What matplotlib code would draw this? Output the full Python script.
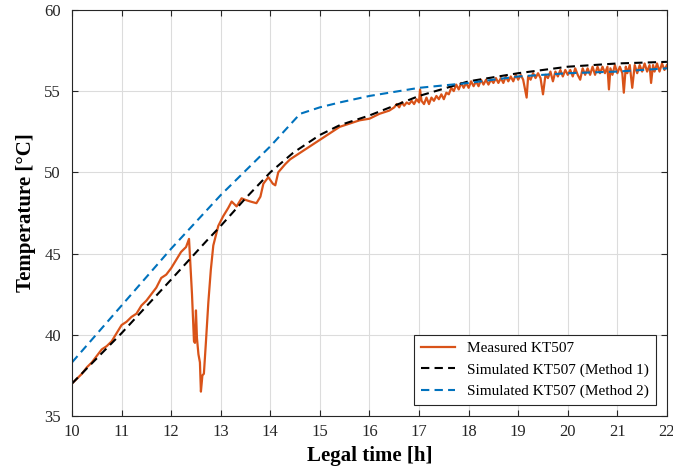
import matplotlib.pyplot as plt

plt.rcParams['font.family'] = ['Liberation Serif', 'DejaVu Serif']

# measured KT507
meas_t = [10.0, 10.1, 10.2, 10.3, 10.4, 10.5, 10.6, 10.7, 10.8, 10.9,
          11.0, 11.1, 11.2, 11.3, 11.4, 11.5, 11.6, 11.7, 11.8, 11.9,
          12.0, 12.1, 12.2, 12.3, 12.36, 12.42, 12.46, 12.48, 12.5, 12.52,
          12.55, 12.58, 12.6, 12.63, 12.66, 12.7, 12.75, 12.8, 12.85, 12.95,
          13.05, 13.15, 13.22, 13.32, 13.42, 13.5, 13.6, 13.72, 13.8, 13.86,
          13.96, 14.05, 14.1, 14.16, 14.3, 14.4, 14.5, 14.6, 14.8, 15.0,
          15.2, 15.4, 15.6, 15.8, 16.0, 16.2, 16.4,
          16.5, 16.55, 16.6, 16.65, 16.7, 16.75, 16.8, 16.85, 16.9, 16.95,
          17.0, 17.02, 17.05, 17.1, 17.15, 17.2, 17.25, 17.3, 17.35, 17.4,
          17.45, 17.5, 17.55, 17.6, 17.65, 17.7, 17.75, 17.8, 17.85, 17.9,
          17.95, 18.0, 18.05, 18.1, 18.15, 18.2, 18.25, 18.3, 18.35, 18.4,
          18.45, 18.5, 18.55, 18.6, 18.65, 18.7, 18.75, 18.8, 18.85, 18.9,
          18.95, 19.0, 19.05, 19.1, 19.17, 19.2, 19.25, 19.3, 19.35, 19.4,
          19.45, 19.5, 19.55, 19.6, 19.65, 19.7, 19.75, 19.8, 19.85, 19.9,
          19.95, 20.0, 20.05, 20.1, 20.15, 20.2, 20.25, 20.3, 20.35, 20.4,
          20.45, 20.5, 20.55, 20.6, 20.65, 20.7, 20.75, 20.8, 20.83, 20.86,
          20.9, 20.95, 21.0, 21.05, 21.1, 21.13, 21.17, 21.2, 21.25, 21.3,
          21.35, 21.4, 21.45, 21.5, 21.55, 21.6, 21.65, 21.68, 21.72, 21.75,
          21.8, 21.85, 21.9, 21.95, 22.0]
meas_T = [37.0, 37.3, 37.6, 38.0, 38.3, 38.7, 39.1, 39.3, 39.6, 40.1,
          40.6, 40.8, 41.1, 41.3, 41.8, 42.1, 42.5, 42.9, 43.5, 43.7,
          44.1, 44.6, 45.1, 45.4, 45.9, 42.5, 39.6, 39.5, 41.5, 39.8,
          38.8, 38.3, 36.5, 37.5, 37.6, 39.5, 42.0, 44.0, 45.5, 46.7,
          47.3, 47.8, 48.2, 47.9, 48.4, 48.3, 48.2, 48.1, 48.5, 49.3,
          49.7, 49.3, 49.2, 50.0, 50.5, 50.8, 51.0, 51.2, 51.6, 52.0,
          52.4, 52.8, 53.0, 53.2, 53.3, 53.6, 53.8,
          54.0, 54.2, 54.0, 54.3, 54.1, 54.3, 54.2, 54.4, 54.2, 54.5,
          54.3, 55.1, 54.4, 54.2, 54.6, 54.2, 54.6, 54.4, 54.7, 54.5,
          54.8, 54.5, 54.9, 54.8, 55.2, 55.0, 55.4, 55.1, 55.5, 55.2,
          55.5, 55.2, 55.6, 55.3, 55.6, 55.3, 55.7, 55.4, 55.7, 55.4,
          55.7, 55.5, 55.8, 55.5, 55.8, 55.5, 55.9, 55.6, 55.9, 55.6,
          56.0, 55.7, 56.0, 55.7, 54.6, 55.9, 55.7, 56.1, 55.8, 56.1,
          55.8, 54.8, 56.0, 55.8, 56.2, 55.6, 56.2, 55.9, 56.3, 55.9,
          56.3, 56.0, 56.3, 55.9, 56.4, 56.0, 55.7, 56.4, 56.0, 56.4,
          56.0, 56.5, 56.0, 56.5, 56.1, 56.5, 56.1, 56.5, 55.1, 56.4,
          56.0, 56.6, 56.1, 56.5, 56.1, 54.9, 56.5, 56.1, 56.6, 55.2,
          56.6, 56.1, 56.6, 56.2, 56.7, 56.2, 56.6, 55.5, 56.6, 56.2,
          56.7, 56.2, 56.7, 56.3, 56.6]

# simulated, method 1
sim1_t = [10.0, 11.0, 12.0, 12.72, 13.0, 13.5, 14.0, 14.46, 15.0, 15.4,
          16.0, 17.0, 18.0, 19.0, 20.0, 21.0, 22.0]
sim1_T = [37.0, 40.1, 43.4, 45.8, 46.7, 48.4, 50.0, 51.2, 52.3, 52.9,
          53.5, 54.7, 55.6, 56.1, 56.5, 56.7, 56.8]

# simulated, method 2
sim2_t = [10.0, 11.0, 12.0, 13.0, 14.0, 14.6, 15.0, 15.4, 16.0, 17.0,
          18.0, 19.0, 20.0, 21.0, 22.0]
sim2_T = [38.3, 41.8, 45.3, 48.6, 51.6, 53.6, 54.0, 54.3, 54.7, 55.2,
          55.5, 55.9, 56.1, 56.2, 56.4]

fig = plt.figure(figsize=(6.73, 4.69), dpi=100)
ax = fig.add_axes([0.107, 0.113, 0.884, 0.866])

ax.plot(meas_t, meas_T, color='#D95319', lw=1.6, label='Measured KT507')
ax.plot(sim1_t, sim1_T, color='black', lw=1.5, ls=(0, (4, 2.5)),
        label='Simulated KT507 (Method 1)')
ax.plot(sim2_t, sim2_T, color='#0072BD', lw=1.5, ls=(0, (4, 2.5)),
        label='Simulated KT507 (Method 2)')

ax.set_xlim(10, 22)
ax.set_ylim(35, 60)
ax.set_xticks(range(10, 23))
ax.set_yticks(range(35, 61, 5))
ax.grid(True, color='#dcdcdc', lw=0.8)
ax.set_axisbelow(True)
ax.tick_params(direction='in', top=True, right=True, labelsize=12,
               colors='#262626', length=4)
ax.tick_params(axis='x', pad=6)
ax.tick_params(axis='y', pad=8)
for s in ax.spines.values():
    s.set_color('#262626')
    s.set_linewidth(0.8)

ax.set_xlabel('Legal time [h]', fontsize=15, fontweight='bold', labelpad=4)
ax.set_ylabel('Temperature [\u00b0C]', fontsize=15, fontweight='bold', labelpad=6)

leg = ax.legend(loc='lower right', bbox_to_anchor=(0.9815, 0.027), fontsize=11,
                fancybox=False, framealpha=1, edgecolor='#262626',
                handlelength=2.2, borderpad=0.45, labelspacing=0.5,
                borderaxespad=0)
leg.get_frame().set_linewidth(0.8)

fig.savefig('out.png', dpi=100)
